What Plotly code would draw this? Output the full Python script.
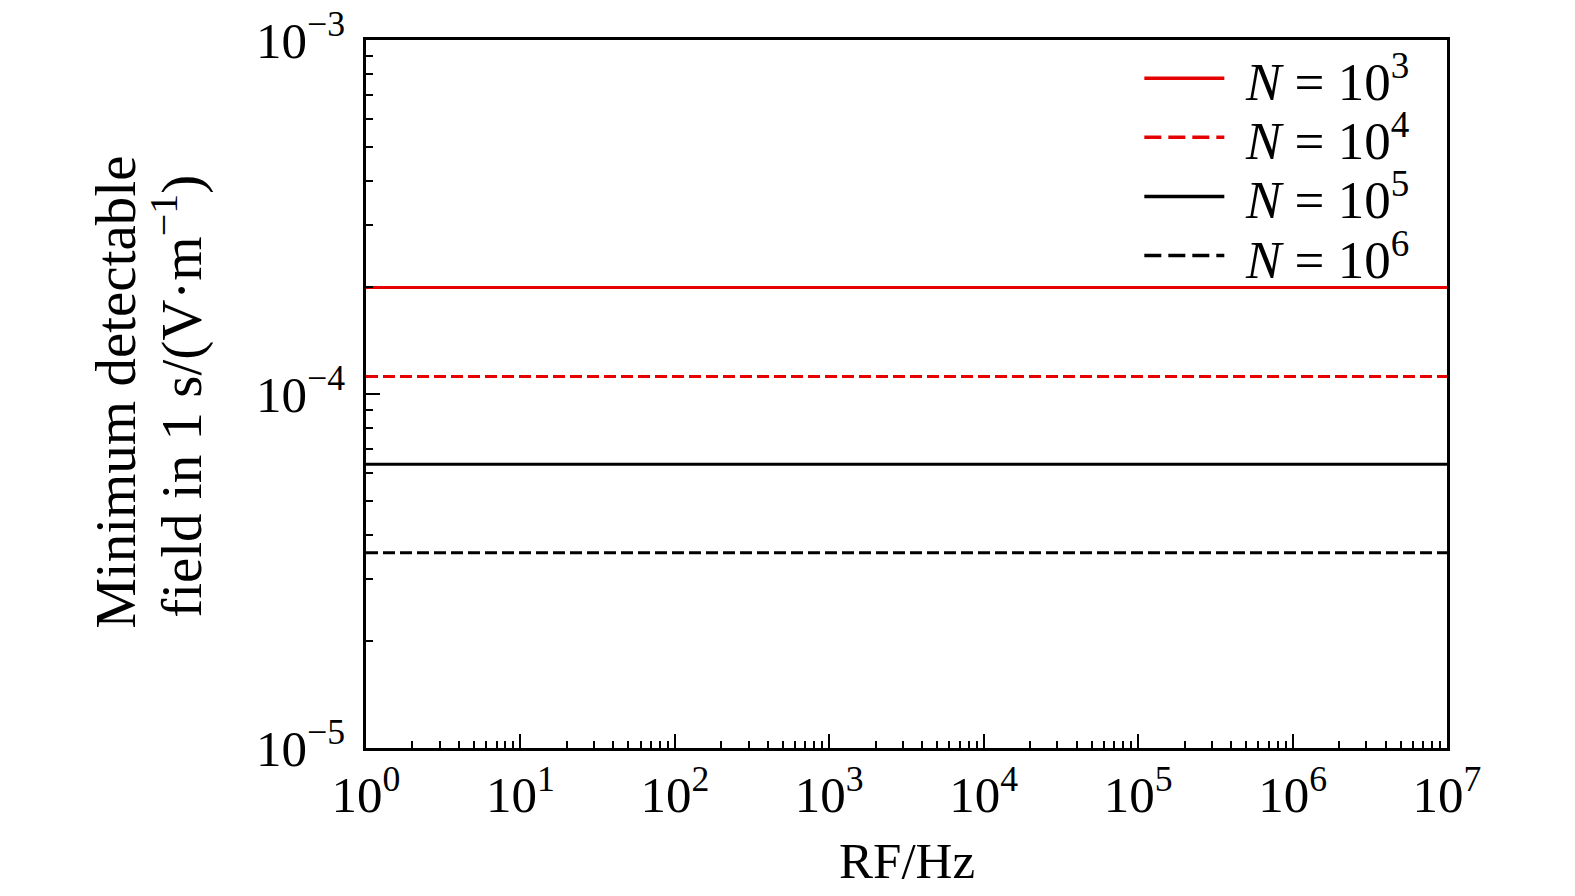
import plotly.graph_objects as go

# ---- data ----
freq_hz = [1, 1e7]
series_names = ["<i>N</i> = 10<sup>3</sup>", "<i>N</i> = 10<sup>4</sup>",
                "<i>N</i> = 10<sup>5</sup>", "<i>N</i> = 10<sup>6</sup>"]
field_n1e3 = [2.0e-4, 2.0e-4]
field_n1e4 = [1.12e-4, 1.12e-4]
field_n1e5 = [6.33e-5, 6.33e-5]
field_n1e6 = [3.56e-5, 3.56e-5]
series_values = [field_n1e3, field_n1e4, field_n1e5, field_n1e6]
series_colors = ["#e60000", "#e60000", "#000000", "#000000"]
series_dash = ["solid", "12px,5px", "solid", "12px,5px"]

x_tickvals = [1, 10, 100, 1e3, 1e4, 1e5, 1e6, 1e7]
x_ticktext = ["10<sup>0</sup>", "10<sup>1</sup>", "10<sup>2</sup>", "10<sup>3</sup>",
              "10<sup>4</sup>", "10<sup>5</sup>", "10<sup>6</sup>", "10<sup>7</sup>"]
y_tickvals = [1e-5, 1e-4, 1e-3]
y_ticktext = ["10<sup>−5</sup>", "10<sup>−4</sup>", "10<sup>−3</sup>"]
y_title_lines = ["Minimum detectable", "field in 1 s/(V·m<sup>−1</sup>)"]

FONT = "Liberation Serif"

fig = go.Figure()
for name, vals, col, dash in zip(series_names, series_values, series_colors, series_dash):
    fig.add_trace(go.Scatter(x=freq_hz, y=vals, mode="lines", name=name, showlegend=False,
                             line=dict(color=col, width=3, dash=dash)))

axis_common = dict(
    showline=True, linecolor="black", linewidth=2.5, mirror=True,
    ticks="inside", ticklen=14, tickwidth=2, tickcolor="black",
    showgrid=False, zeroline=False, automargin=False, ticklabeloverflow="allow",
    tickfont=dict(family=FONT, size=51, color="black"),
    minor=dict(ticks="inside", dtick="D1", ticklen=7, tickwidth=1.5,
               tickcolor="black", showgrid=False),
)

fig.update_xaxes(type="log", range=[0, 7], tickvals=x_tickvals, ticktext=x_ticktext,
                 ticklabelstandoff=0, **axis_common)
fig.update_yaxes(type="log", range=[-5, -3], tickvals=y_tickvals, ticktext=y_ticktext,
                 ticklabelstandoff=8, **axis_common)

# axis titles
for txt, xp, yp in zip(y_title_lines, [-0.2313, -0.1739], [0.503, 0.496]):
    fig.add_annotation(xref="paper", yref="paper", x=xp, y=yp, xanchor="center", yanchor="middle",
                       textangle=-90, showarrow=False, text=txt,
                       font=dict(family=FONT, size=57, color="black"))
fig.add_annotation(xref="paper", yref="paper", x=0.5, y=-0.1596, xanchor="center", yanchor="middle",
                   showarrow=False, text="RF/Hz",
                   font=dict(family=FONT, size=51, color="black"))

# legend (drawn in paper coordinates from the series lists)
leg_x0, leg_x1, leg_tx = 0.72, 0.794, 0.811
leg_y0, leg_dy = 0.946, 0.0835
for i, (name, col, dash) in enumerate(zip(series_names, series_colors, series_dash)):
    yy = leg_y0 - i * leg_dy
    fig.add_shape(type="line", xref="paper", yref="paper", x0=leg_x0, x1=leg_x1, y0=yy, y1=yy,
                  line=dict(color=col, width=3.5, dash="solid" if dash == "solid" else "17px,7px"))
    fig.add_annotation(xref="paper", yref="paper", x=leg_tx, y=yy, xanchor="left", yanchor="middle",
                       showarrow=False, text=name,
                       font=dict(family=FONT, size=53, color="black"))

fig.update_layout(
    width=1575, height=896,
    margin=dict(l=358, r=136, t=32, b=156),
    paper_bgcolor="white", plot_bgcolor="white",
    showlegend=False,
)

fig.write_html("out.html")
